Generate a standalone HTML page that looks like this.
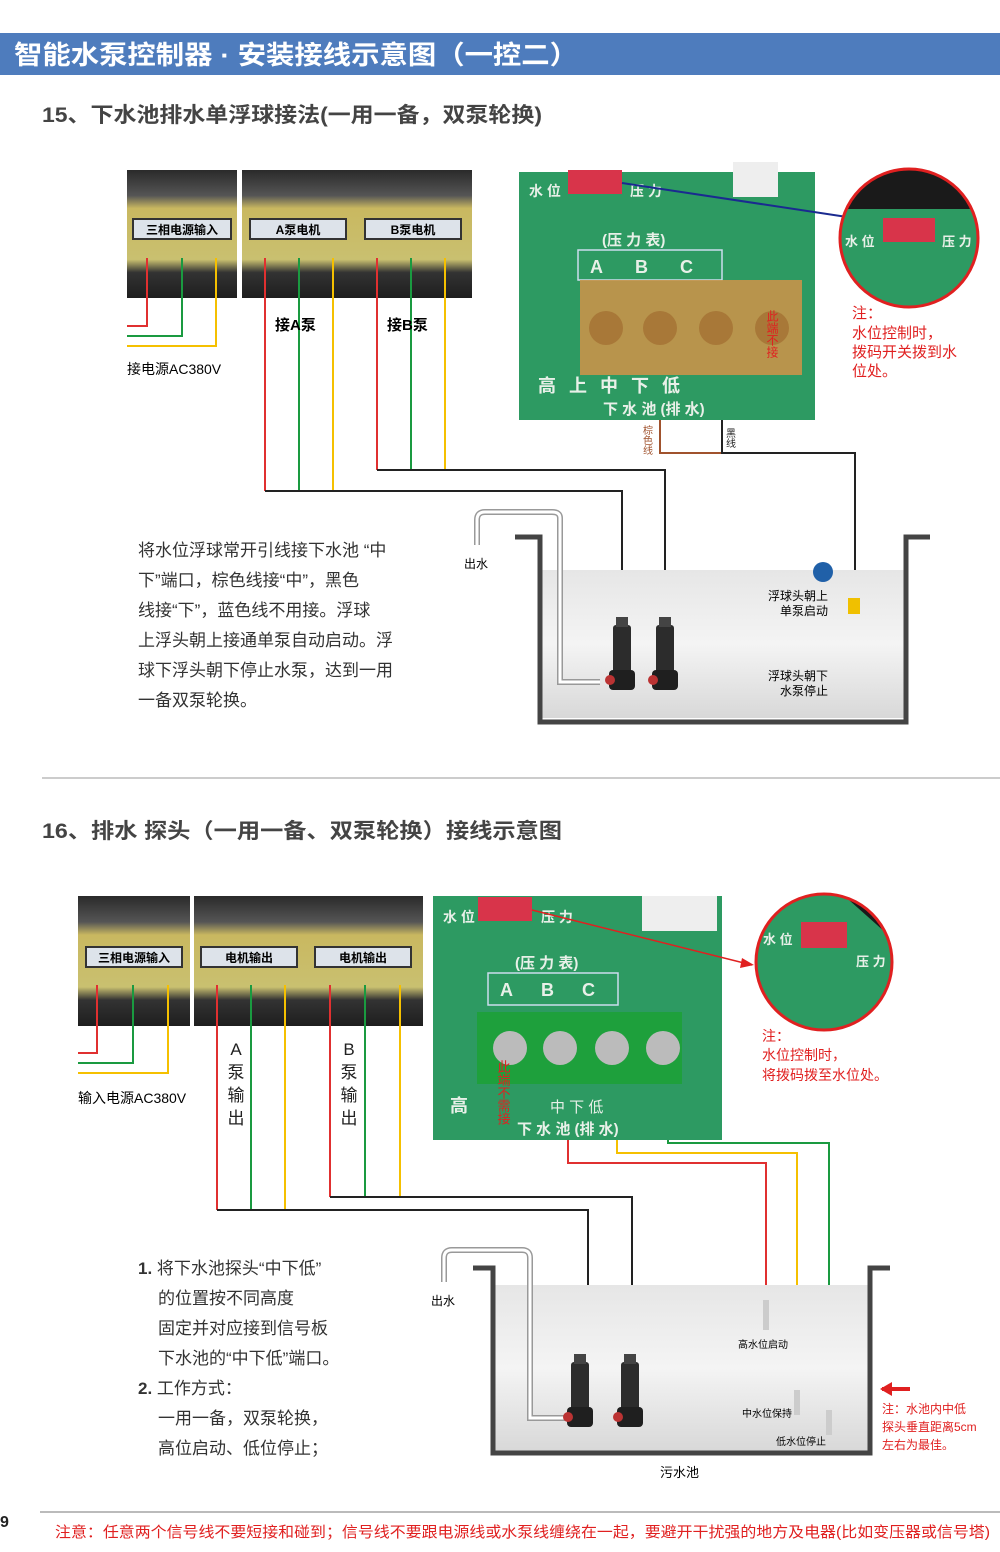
<!DOCTYPE html>
<html><head><meta charset="utf-8"><style>
body{margin:0;background:#fff;}
svg{display:block;font-family:"Liberation Sans","Noto Sans CJK SC",sans-serif;}
</style></head><body>
<svg width="1000" height="1552" viewBox="0 0 1000 1552" xmlns="http://www.w3.org/2000/svg">
<defs>
<linearGradient id="term" x1="0" y1="0" x2="0" y2="1"><stop offset="0" stop-color="#2a2a2a"/><stop offset=".2" stop-color="#555"/><stop offset=".3" stop-color="#c9b860"/><stop offset=".7" stop-color="#c9c070"/><stop offset=".8" stop-color="#333"/><stop offset="1" stop-color="#1e1e1e"/></linearGradient>
<linearGradient id="water" x1="0" y1="0" x2="0" y2="1"><stop offset="0" stop-color="#e6e6e6"/><stop offset=".5" stop-color="#f4f4f4"/><stop offset="1" stop-color="#d8d8d8"/></linearGradient>
<clipPath id="c1"><circle cx="909" cy="238" r="69"/></clipPath>
<clipPath id="c2"><circle cx="824" cy="962" r="68"/></clipPath>
<g id="pump"><rect x="-9" y="0" width="18" height="50" rx="3" fill="#2c2c2c"/><rect x="-6" y="-8" width="12" height="10" fill="#444"/><rect x="-13" y="45" width="26" height="20" rx="4" fill="#1f1f1f"/><circle cx="-12" cy="55" r="5" fill="#b33"/></g>
</defs>
<!-- header -->
<rect x="0" y="33" width="1000" height="42" fill="#4e7cbd"/>
<text x="14" y="64" font-size="26" font-weight="bold" fill="#fff" textLength="564" lengthAdjust="spacingAndGlyphs">智能水泵控制器 · 安装接线示意图（一控二）</text>
<text x="42" y="122" font-size="21" font-weight="bold" fill="#444" textLength="500" lengthAdjust="spacingAndGlyphs">15、下水池排水单浮球接法(一用一备，双泵轮换)</text>

<!-- terminal photos 15 -->
<rect x="127" y="170" width="110" height="128" fill="url(#term)"/>
<rect x="242" y="170" width="230" height="128" fill="url(#term)"/>
<rect x="133" y="219" width="98" height="20" fill="#dde3ea" stroke="#333" stroke-width="2"/>
<text x="182" y="234" font-size="12" font-weight="bold" text-anchor="middle">三相电源输入</text>
<rect x="250" y="219" width="96" height="20" fill="#dde3ea" stroke="#333" stroke-width="2"/>
<text x="298" y="234" font-size="12" font-weight="bold" text-anchor="middle">A泵电机</text>
<rect x="365" y="219" width="96" height="20" fill="#dde3ea" stroke="#333" stroke-width="2"/>
<text x="413" y="234" font-size="12" font-weight="bold" text-anchor="middle">B泵电机</text>
<g fill="none" stroke-width="2">
<polyline points="147,258 147,326 127,326" stroke="#e03030"/>
<polyline points="182,258 182,336 127,336" stroke="#1a9a40"/>
<polyline points="216,258 216,346 127,346" stroke="#f5c000"/>
<line x1="265" y1="258" x2="265" y2="491" stroke="#e03030"/>
<line x1="299" y1="258" x2="299" y2="491" stroke="#1a9a40"/>
<line x1="333" y1="258" x2="333" y2="491" stroke="#f5c000"/>
<line x1="377" y1="258" x2="377" y2="470" stroke="#e03030"/>
<line x1="411" y1="258" x2="411" y2="470" stroke="#1a9a40"/>
<line x1="445" y1="258" x2="445" y2="470" stroke="#f5c000"/>
<polyline points="265,491 622,491 622,625" stroke="#222"/>
<polyline points="377,470 665,470 665,625" stroke="#222"/>
<polyline points="660,330 660,453 722,453" stroke="#a0522d"/>
<polyline points="722,330 722,453 855,453 855,590" stroke="#222"/>
</g>
<text x="275" y="330" font-size="15" font-weight="bold">接A泵</text>
<text x="387" y="330" font-size="15" font-weight="bold">接B泵</text>
<text x="127" y="374" font-size="14">接电源AC380V</text>

<!-- PCB 15 -->
<rect x="519" y="172" width="296" height="248" fill="#2d9a62"/>
<rect x="733" y="162" width="45" height="35" fill="#eee"/>
<rect x="568" y="170" width="54" height="24" fill="#d8344a"/>
<text x="529" y="196" font-size="14" font-weight="bold" fill="#e8f0e8">水 位</text>
<text x="630" y="196" font-size="14" font-weight="bold" fill="#e8f0e8">压 力</text>
<text x="602" y="245" font-size="15" font-weight="bold" fill="#e8f0e8">(压 力 表)</text>
<rect x="578" y="250" width="144" height="30" fill="none" stroke="#cde" stroke-width="1.5"/>
<text x="590" y="273" font-size="18" font-weight="bold" fill="#e8f0e8" letter-spacing="32">ABC</text>
<rect x="580" y="280" width="222" height="95" fill="#c8934a" opacity=".9"/>
<g fill="#a87838"><circle cx="606" cy="328" r="17"/><circle cx="660" cy="328" r="17"/><circle cx="716" cy="328" r="17"/><circle cx="772" cy="328" r="17"/></g>
<text x="772" y="310" font-size="12" fill="#e02020" writing-mode="tb">此端不接</text>
<text x="538" y="392" font-size="18" font-weight="bold" fill="#e8f0e8" letter-spacing="4">高 上   中   下   低</text>
<text x="603" y="414" font-size="15" font-weight="bold" fill="#e8f0e8">下 水 池  (排 水)</text>
<text x="646" y="425" font-size="10" fill="#a0522d" writing-mode="tb">棕色线</text>
<text x="729" y="428" font-size="10" fill="#222" writing-mode="tb">黑线</text>
<line x1="622" y1="183" x2="880" y2="222" stroke="#1a2a90" stroke-width="2"/>
<g clip-path="url(#c1)">
<rect x="840" y="169" width="140" height="140" fill="#2d9a62"/>
<rect x="840" y="169" width="140" height="40" fill="#1a1a1a"/>
<rect x="883" y="218" width="52" height="24" fill="#d8344a"/>
<text x="845" y="246" font-size="13" font-weight="bold" fill="#e8f0e8">水 位</text>
<text x="942" y="246" font-size="13" font-weight="bold" fill="#e8f0e8">压 力</text>
</g>
<circle cx="909" cy="238" r="69" fill="none" stroke="#e02020" stroke-width="3"/>
<text x="852" y="318" font-size="15" fill="#e02020">注：</text>
<text x="852" y="338" font-size="15" fill="#e02020">水位控制时，</text>
<text x="852" y="357" font-size="15" fill="#e02020">拨码开关拨到水</text>
<text x="852" y="376" font-size="15" fill="#e02020">位处。</text>

<!-- text 15 -->
<g font-size="17" fill="#333">
<text x="138" y="556">将水位浮球常开引线接下水池 “中</text>
<text x="138" y="586">下”端口，棕色线接“中”，黑色</text>
<text x="138" y="616">线接“下”，蓝色线不用接。浮球</text>
<text x="138" y="646">上浮头朝上接通单泵自动启动。浮</text>
<text x="138" y="676">球下浮头朝下停止水泵，达到一用</text>
<text x="138" y="706">一备双泵轮换。</text>
</g>

<!-- tank 15 -->
<rect x="540" y="570" width="366" height="148" fill="url(#water)"/>
<path d="M515,537 L540,537 L540,722 L906,722 L906,537 L930,537" fill="none" stroke="#444" stroke-width="5"/>
<path d="M600,682 L560,682 L560,518 Q560,512 552,512 L485,512 Q477,512 477,520 L477,545" fill="none" stroke="#999" stroke-width="6"/>
<path d="M600,682 L560,682 L560,518 Q560,512 552,512 L485,512 Q477,512 477,520 L477,545" fill="none" stroke="#fff" stroke-width="3"/>
<text x="464" y="568" font-size="12">出水</text>
<use href="#pump" x="622" y="625"/><use href="#pump" x="665" y="625"/>
<circle cx="823" cy="572" r="10" fill="#2060a8"/>
<rect x="848" y="598" width="12" height="16" fill="#f0c000"/>
<text x="828" y="600" font-size="12" text-anchor="end">浮球头朝上</text>
<text x="828" y="615" font-size="12" text-anchor="end">单泵启动</text>
<text x="828" y="680" font-size="12" text-anchor="end">浮球头朝下</text>
<text x="828" y="695" font-size="12" text-anchor="end">水泵停止</text>

<line x1="42" y1="778" x2="1000" y2="778" stroke="#999" stroke-width="1"/>
<text x="42" y="838" font-size="21" font-weight="bold" fill="#444" textLength="520" lengthAdjust="spacingAndGlyphs">16、排水 探头（一用一备、双泵轮换）接线示意图</text>

<!-- terminal photos 16 -->
<rect x="78" y="896" width="112" height="130" fill="url(#term)"/>
<rect x="194" y="896" width="229" height="130" fill="url(#term)"/>
<rect x="86" y="947" width="96" height="20" fill="#dde3ea" stroke="#333" stroke-width="2"/>
<text x="134" y="962" font-size="12" font-weight="bold" text-anchor="middle">三相电源输入</text>
<rect x="201" y="947" width="96" height="20" fill="#dde3ea" stroke="#333" stroke-width="2"/>
<text x="249" y="962" font-size="12" font-weight="bold" text-anchor="middle">电机输出</text>
<rect x="315" y="947" width="96" height="20" fill="#dde3ea" stroke="#333" stroke-width="2"/>
<text x="363" y="962" font-size="12" font-weight="bold" text-anchor="middle">电机输出</text>
<g fill="none" stroke-width="2">
<polyline points="97,985 97,1053 78,1053" stroke="#e03030"/>
<polyline points="133,985 133,1063 78,1063" stroke="#1a9a40"/>
<polyline points="168,985 168,1073 78,1073" stroke="#f5c000"/>
<line x1="217" y1="985" x2="217" y2="1210" stroke="#e03030"/>
<line x1="251" y1="985" x2="251" y2="1210" stroke="#1a9a40"/>
<line x1="285" y1="985" x2="285" y2="1210" stroke="#f5c000"/>
<line x1="330" y1="985" x2="330" y2="1197" stroke="#e03030"/>
<line x1="365" y1="985" x2="365" y2="1197" stroke="#1a9a40"/>
<line x1="400" y1="985" x2="400" y2="1197" stroke="#f5c000"/>
<polyline points="217,1210 588,1210 588,1360" stroke="#222"/>
<polyline points="330,1197 632,1197 632,1360" stroke="#222"/>
<polyline points="568,1060 568,1163 766,1163 766,1300" stroke="#e03030"/>
<polyline points="617,1060 617,1153 797,1153 797,1390" stroke="#f5c000"/>
<polyline points="668,1060 668,1143 829,1143 829,1410" stroke="#1a9a40"/>
</g>
<text x="78" y="1103" font-size="14">输入电源AC380V</text>
<g font-size="17" fill="#222" text-anchor="middle">
<text x="236" y="1055">A</text><text x="236" y="1078">泵</text><text x="236" y="1101">输</text><text x="236" y="1124">出</text>
<text x="349" y="1055">B</text><text x="349" y="1078">泵</text><text x="349" y="1101">输</text><text x="349" y="1124">出</text>
</g>

<!-- PCB 16 -->
<rect x="433" y="896" width="289" height="244" fill="#2d9a62"/>
<rect x="642" y="896" width="75" height="35" fill="#eee"/>
<rect x="478" y="897" width="54" height="24" fill="#d8344a"/>
<text x="443" y="922" font-size="14" font-weight="bold" fill="#e8f0e8">水 位</text>
<text x="541" y="922" font-size="14" font-weight="bold" fill="#e8f0e8">压 力</text>
<text x="515" y="968" font-size="15" font-weight="bold" fill="#e8f0e8">(压 力 表)</text>
<rect x="488" y="973" width="130" height="32" fill="none" stroke="#cde" stroke-width="1.5"/>
<text x="500" y="996" font-size="18" font-weight="bold" fill="#e8f0e8" letter-spacing="28">ABC</text>
<rect x="477" y="1012" width="205" height="72" fill="#1ea03c"/>
<g fill="#bbb"><circle cx="510" cy="1048" r="17"/><circle cx="560" cy="1048" r="17"/><circle cx="612" cy="1048" r="17"/><circle cx="663" cy="1048" r="17"/></g>
<text x="503" y="1060" font-size="13" fill="#e02020" writing-mode="tb">此端不需接</text>
<text x="450" y="1112" font-size="18" font-weight="bold" fill="#e8f0e8">高</text>
<text x="550" y="1112" font-size="15" fill="#e8f0e8">中      下      低</text>
<text x="517" y="1134" font-size="15" font-weight="bold" fill="#e8f0e8">下 水 池  (排 水)</text>
<line x1="532" y1="910" x2="752" y2="965" stroke="#e02020" stroke-width="1.5"/>
<polygon points="754,965 742,958 740,968" fill="#e02020"/>
<g clip-path="url(#c2)">
<rect x="754" y="892" width="140" height="140" fill="#2d9a62"/>
<polygon points="840,892 894,892 894,940" fill="#1a1a1a"/>
<rect x="801" y="922" width="46" height="26" fill="#d8344a"/>
<text x="763" y="944" font-size="13" font-weight="bold" fill="#e8f0e8">水 位</text>
<text x="856" y="966" font-size="13" font-weight="bold" fill="#e8f0e8">压 力</text>
</g>
<circle cx="824" cy="962" r="68" fill="none" stroke="#e02020" stroke-width="3"/>
<text x="762" y="1041" font-size="14" fill="#e02020">注：</text>
<text x="762" y="1060" font-size="14" fill="#e02020">水位控制时，</text>
<text x="762" y="1080" font-size="14" fill="#e02020">将拨码拨至水位处。</text>

<!-- text 16 -->
<g font-size="17" fill="#333">
<text x="138" y="1274"><tspan font-weight="bold">1.</tspan> 将下水池探头“中下低”</text>
<text x="158" y="1304">的位置按不同高度</text>
<text x="158" y="1334">固定并对应接到信号板</text>
<text x="158" y="1364">下水池的“中下低”端口。</text>
<text x="138" y="1394"><tspan font-weight="bold">2.</tspan> 工作方式：</text>
<text x="158" y="1424">一用一备，双泵轮换，</text>
<text x="158" y="1454">高位启动、低位停止；</text>
</g>

<!-- tank 16 -->
<rect x="493" y="1285" width="377" height="166" fill="url(#water)"/>
<path d="M473,1268 L493,1268 L493,1453 L870,1453 L870,1268 L890,1268" fill="none" stroke="#444" stroke-width="5"/>
<path d="M565,1418 L530,1418 L530,1258 Q530,1250 522,1250 L452,1250 Q444,1250 444,1258 L444,1282" fill="none" stroke="#999" stroke-width="6"/>
<path d="M565,1418 L530,1418 L530,1258 Q530,1250 522,1250 L452,1250 Q444,1250 444,1258 L444,1282" fill="none" stroke="#fff" stroke-width="3"/>
<text x="431" y="1305" font-size="12">出水</text>
<use href="#pump" x="580" y="1362"/><use href="#pump" x="630" y="1362"/>
<rect x="763" y="1300" width="6" height="30" fill="#ccc"/>
<rect x="794" y="1390" width="6" height="25" fill="#ccc"/>
<rect x="826" y="1410" width="6" height="25" fill="#ccc"/>
<text x="738" y="1348" font-size="10">高水位启动</text>
<text x="742" y="1417" font-size="10">中水位保持</text>
<text x="776" y="1445" font-size="10">低水位停止</text>
<text x="660" y="1477" font-size="13">污水池</text>
<line x1="882" y1="1389" x2="910" y2="1389" stroke="#e02020" stroke-width="4"/>
<polygon points="880,1389 892,1382 892,1396" fill="#e02020"/>
<text x="882" y="1413" font-size="12" fill="#e02020">注：水池内中低</text>
<text x="882" y="1431" font-size="12" fill="#e02020">探头垂直距离5cm</text>
<text x="882" y="1449" font-size="12" fill="#e02020">左右为最佳。</text>

<line x1="40" y1="1512" x2="1000" y2="1512" stroke="#777" stroke-width="1"/>
<text x="0" y="1527" font-size="16" font-weight="bold" fill="#222">9</text>
<text x="55" y="1537" font-size="15" fill="#e02020" textLength="935" lengthAdjust="spacingAndGlyphs">注意：任意两个信号线不要短接和碰到；信号线不要跟电源线或水泵线缠绕在一起，要避开干扰强的地方及电器(比如变压器或信号塔)</text>
</svg>
</body></html>
